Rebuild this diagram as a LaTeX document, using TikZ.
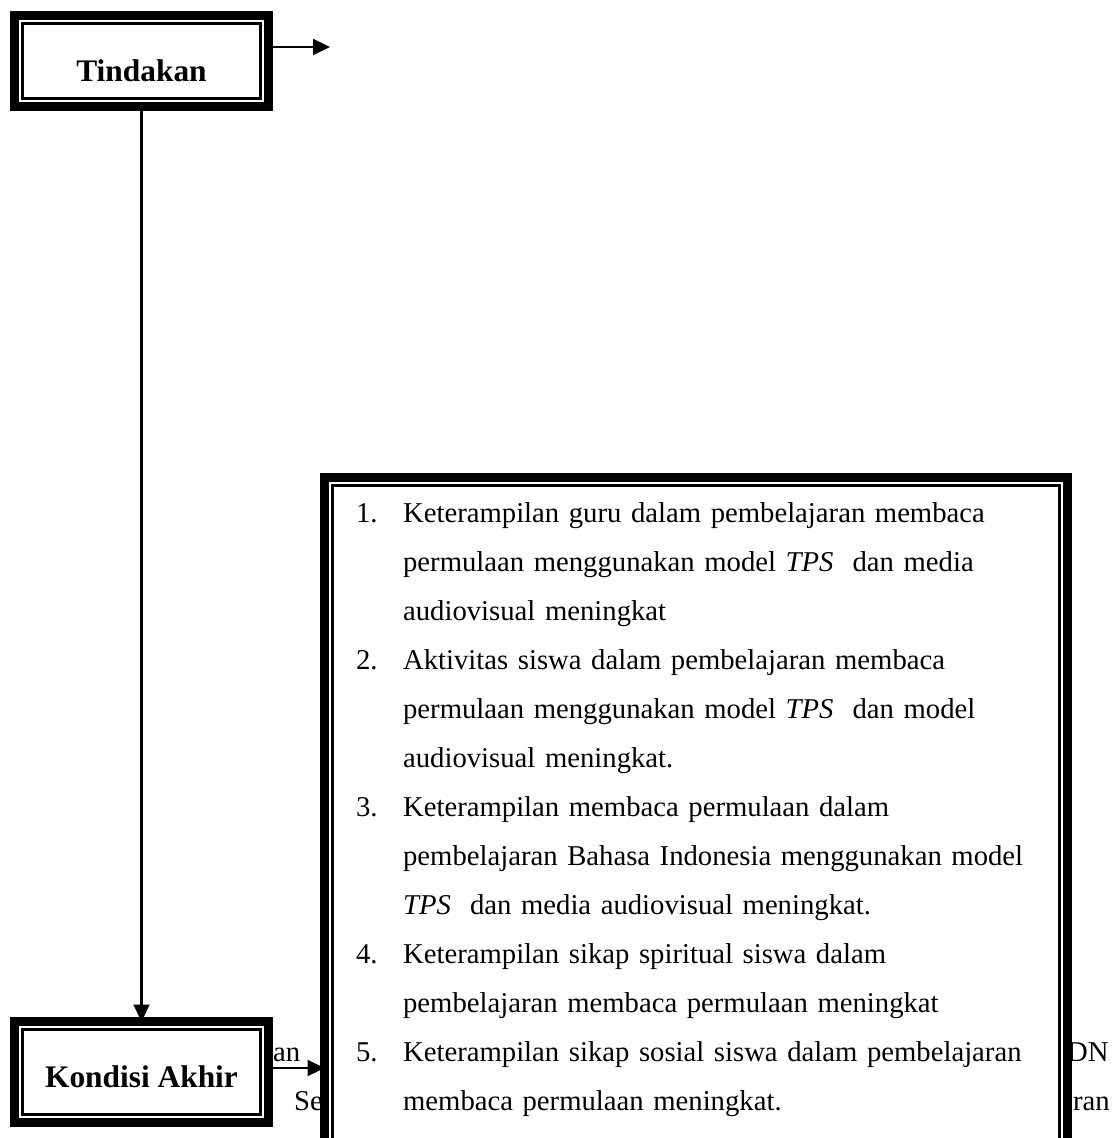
\documentclass[tikz,border=0pt]{standalone}
\usepackage{fontspec}
\setmainfont{Liberation Serif}
\usetikzlibrary{arrows.meta,positioning}

\tikzset{
  kotak/.style={draw, fill=white, line width=4.5pt, outer sep=0pt, inner sep=0pt,
    path picture={\draw[line width=1.2pt]
      ([shift={(4pt,-4pt)}]path picture bounding box.north west) rectangle
      ([shift={(-4pt,4pt)}]path picture bounding box.south east);}},
  judul/.style={font=\bfseries\fontsize{15.7}{19}\selectfont},
  teks/.style={inner sep=0pt, anchor=base west, font=\fontsize{14.35}{24.5}\selectfont},
}

\begin{document}
\begin{tikzpicture}[x=0.5pt,y=-0.5pt,>={Triangle[length=8.5pt,width=8pt]},
                    line width=1.1pt]
  \useasboundingbox (0,0) rectangle (1112,1138);
  \clip (0,0) rectangle (1112,1138);

  % sisa teks di belakang kotak
  \node[teks] (sisaA) at (272,1061) {an};
  \node[teks] (sisaB) at (293,1110) {Se};
  \node[teks] (sisaC) at (1066,1061) {DN};
  \node[teks] (sisaD) at (1072,1110) {ran};

  \node[kotak, judul, minimum width=127pt, minimum height=45.5pt,
        text height=21pt, text depth=0pt] (tindakan) at (141.5,61) {Tindakan};
  \node[kotak, judul, minimum width=127pt, minimum height=50.5pt,
        text height=15pt, text depth=0pt] (akhir) at (141.5,1072) {Kondisi Akhir};
  \node[kotak, anchor=north west, minimum width=371.5pt,
        minimum height=365pt] (hasil) at (324.5,477.5) {};

  \node[teks, text width=350pt, align=left] (isi) at (355,522) {%
    \makebox[23.5pt][l]{1.}Keterampilan guru dalam pembelajaran membaca\\
    \hspace*{23.5pt}permulaan menggunakan model \textit{TPS}~ dan media\\
    \hspace*{23.5pt}audiovisual meningkat\\
    \makebox[23.5pt][l]{2.}Aktivitas siswa dalam pembelajaran membaca\\
    \hspace*{23.5pt}permulaan menggunakan model \textit{TPS}~ dan model\\
    \hspace*{23.5pt}audiovisual meningkat.\\
    \makebox[23.5pt][l]{3.}Keterampilan membaca permulaan dalam\\
    \hspace*{23.5pt}pembelajaran Bahasa Indonesia menggunakan model\\
    \hspace*{23.5pt}\textit{TPS}~ dan media audiovisual meningkat.\\
    \makebox[23.5pt][l]{4.}Keterampilan sikap spiritual siswa dalam\\
    \hspace*{23.5pt}pembelajaran membaca permulaan meningkat\\
    \makebox[23.5pt][l]{5.}Keterampilan sikap sosial siswa dalam pembelajaran\\
    \hspace*{23.5pt}membaca permulaan meningkat.};

  \coordinate (ujung) at (330,47);
  \draw[->] (tindakan.east |- ujung) -- (ujung);
  \draw[->] (tindakan) -- (akhir);
  \draw[->] ([yshift=2pt]akhir.east) -- ([yshift=2pt]akhir.east -| hasil.west);
\end{tikzpicture}
\end{document}
